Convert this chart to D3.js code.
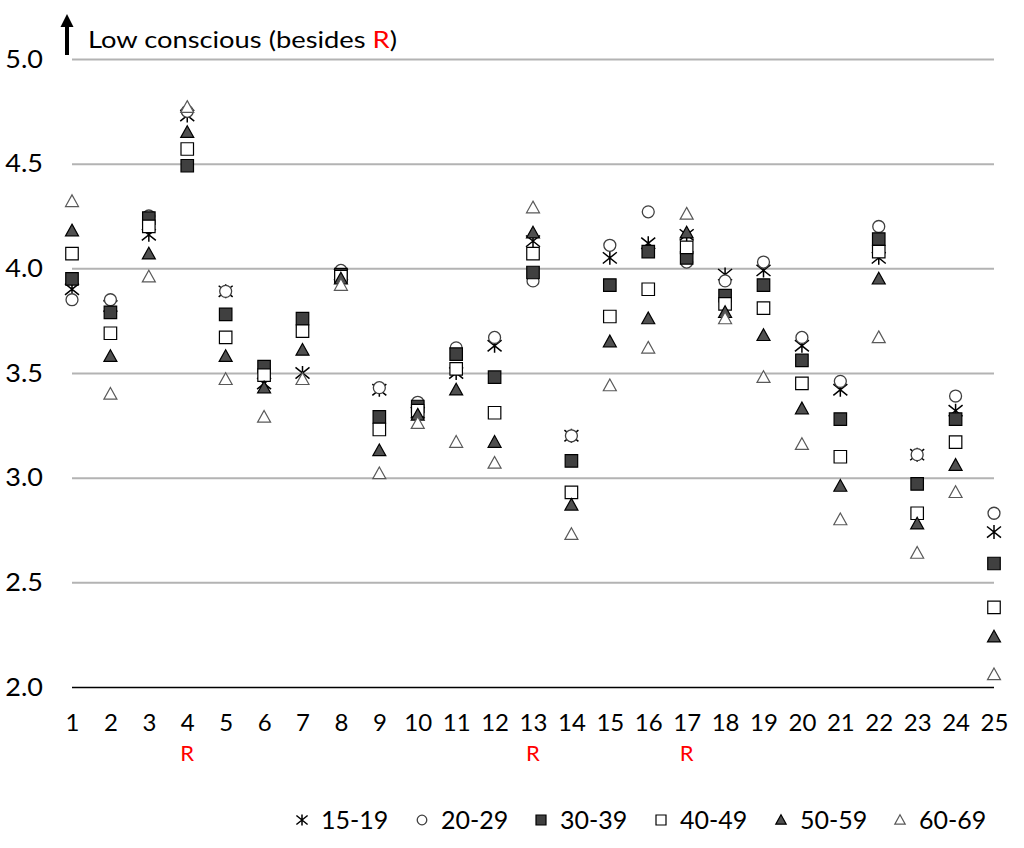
<!DOCTYPE html>
<html>
<head>
<meta charset="utf-8">
<script src="https://cdn.jsdelivr.net/npm/d3@7/dist/d3.min.js"></script>
<style>
  body { margin: 0; background: #fff; }
  svg { display: block; font-family: Lato, "Open Sans", sans-serif; }
</style>
</head>
<body>
<svg id="chart" width="1024" height="848"></svg>
<script>
const categories = ["1","2","3","4","5","6","7","8","9","10","11","12","13","14","15","16","17","18","19","20","21","22","23","24","25"];
const reversed = ["4","13","17"];
const yTicks = [2.0, 2.5, 3.0, 3.5, 4.0, 4.5, 5.0];
const seriesNames = ["15-19","20-29","30-39","40-49","50-59","60-69"];
const s15_19 = [3.90,3.82,4.16,4.73,3.89,3.45,3.50,3.97,3.42,3.31,3.50,3.63,4.13,3.20,4.05,4.12,4.16,3.97,3.99,3.63,3.42,4.05,3.11,3.32,2.74];
const s20_29 = [3.85,3.85,4.25,4.75,3.89,3.51,3.72,3.99,3.43,3.36,3.62,3.67,3.94,3.20,4.11,4.27,4.03,3.94,4.03,3.67,3.46,4.20,3.11,3.39,2.83];
const s30_39 = [3.95,3.79,4.24,4.49,3.78,3.53,3.76,3.97,3.29,3.34,3.59,3.48,3.98,3.08,3.92,4.08,4.05,3.87,3.92,3.56,3.28,4.14,2.97,3.28,2.59];
const s40_49 = [4.07,3.69,4.20,4.57,3.67,3.49,3.70,3.96,3.23,3.32,3.52,3.31,4.07,2.93,3.77,3.90,4.10,3.83,3.81,3.45,3.10,4.08,2.83,3.17,2.38];
const s50_59 = [4.18,3.58,4.07,4.65,3.58,3.43,3.61,3.95,3.13,3.30,3.42,3.17,4.17,2.87,3.65,3.76,4.17,3.79,3.68,3.33,2.96,3.95,2.78,3.06,2.24];
const s60_69 = [4.32,3.40,3.96,4.77,3.47,3.29,3.47,3.92,3.02,3.26,3.17,3.07,4.29,2.73,3.44,3.62,4.26,3.76,3.48,3.16,2.80,3.67,2.64,2.93,2.06];
const seriesValues = [s15_19, s20_29, s30_39, s40_49, s50_59, s60_69];

const svg = d3.select("#chart");
const x = d3.scalePoint().domain(categories).range([72, 994]);
const y = d3.scaleLinear().domain([2, 5]).range([687, 59]);

function markerPath(type, s) {
  const h = s / 2;
  switch (type) {
    case "star": return `M${-h},${-h*0.8}L${h},${h*0.8}M${-h},${h*0.8}L${h},${-h*0.8}M0,${-h}L0,${h}`;
    case "circle": return d3.symbol(d3.symbolCircle, s * s * 0.78)();
    case "square": return `M${-h},${-h}H${h}V${h}H${-h}Z`;
    case "triangle": return `M0,${-h*1.0}L${h},${h*0.8}L${-h},${h*0.8}Z`;
  }
}
const styles = [
  {type: "star", fill: "none", stroke: "#000", sw: 1.5, size: 14},
  {type: "circle", fill: "#fff", stroke: "#404040", sw: 1.3, size: 12},
  {type: "square", fill: "#404040", stroke: "#000", sw: 1.2, size: 12.5},
  {type: "square", fill: "#fff", stroke: "#000", sw: 1.2, size: 12.5},
  {type: "triangle", fill: "#505050", stroke: "#000", sw: 1.2, size: 13},
  {type: "triangle", fill: "#fff", stroke: "#595959", sw: 1.2, size: 13}
];

// y gridlines + labels
const yAxis = d3.axisLeft(y).tickValues(yTicks).tickFormat(d3.format(".1f")).tickSize(-(994 - 72)).tickPadding(29);
const gy = svg.append("g").attr("transform", "translate(72,0)").call(yAxis);
gy.select(".domain").remove();
gy.selectAll(".tick line").attr("stroke", "#b3b3b3").attr("stroke-width", 2);
gy.selectAll(".tick").filter(d => d === 2).select("line").attr("stroke", "#000").attr("stroke-width", 1.5);
gy.selectAll(".tick text").attr("font-size", 25).attr("fill", "#000").attr("font-family", "Lato, sans-serif")
  .attr("x", null).attr("transform", "translate(-29,0) scale(1.08,1)");

// x labels
const xAxis = d3.axisBottom(x).tickSize(0).tickPadding(0);
const gx = svg.append("g").attr("transform", "translate(0,687)").call(xAxis);
gx.select(".domain").remove();
gx.selectAll(".tick text").attr("font-size", 24).attr("fill", "#000").attr("font-family", "Lato, sans-serif")
  .attr("dy", null).attr("y", 44);

// R labels
svg.append("g").selectAll("text").data(reversed).join("text")
  .attr("x", d => x(d)).attr("y", 761)
  .attr("text-anchor", "middle").attr("font-size", 22).attr("fill", "#ff0000")
  .text("R");

// points
seriesValues.forEach((vals, si) => {
  const st = styles[si];
  svg.append("g").selectAll("path").data(vals).join("path")
    .attr("transform", (d, i) => `translate(${x(categories[i])},${y(d)})`)
    .attr("d", markerPath(st.type, st.size))
    .attr("fill", st.fill).attr("stroke", st.stroke).attr("stroke-width", st.sw);
});

// title arrow + label
svg.append("line").attr("x1", 67).attr("y1", 55).attr("x2", 67).attr("y2", 25)
  .attr("stroke", "#000").attr("stroke-width", 4);
svg.append("path").attr("d", "M67,14L73.5,27L60.5,27Z").attr("fill", "#000");
const t = svg.append("text").attr("x", 88).attr("y", 48).attr("font-size", 23).attr("fill", "#000")
  .attr("textLength", 309).attr("lengthAdjust", "spacingAndGlyphs");
t.append("tspan").text("Low conscious (besides ");
t.append("tspan").attr("fill", "#ff0000").text("R");
t.append("tspan").text(")");

// legend
const legendX = [302, 422, 541, 661, 781, 900];
const lg = svg.append("g");
seriesNames.forEach((name, i) => {
  const st = styles[i];
  const g = lg.append("g").attr("transform", `translate(${legendX[i]},820)`);
  g.append("path").attr("d", markerPath(st.type, st.size * 0.8))
    .attr("fill", st.fill).attr("stroke", st.stroke).attr("stroke-width", st.sw);
  g.append("text").attr("x", 19).attr("y", 9).attr("font-size", 25).attr("fill", "#000").text(name);
});
</script>
</body>
</html>
